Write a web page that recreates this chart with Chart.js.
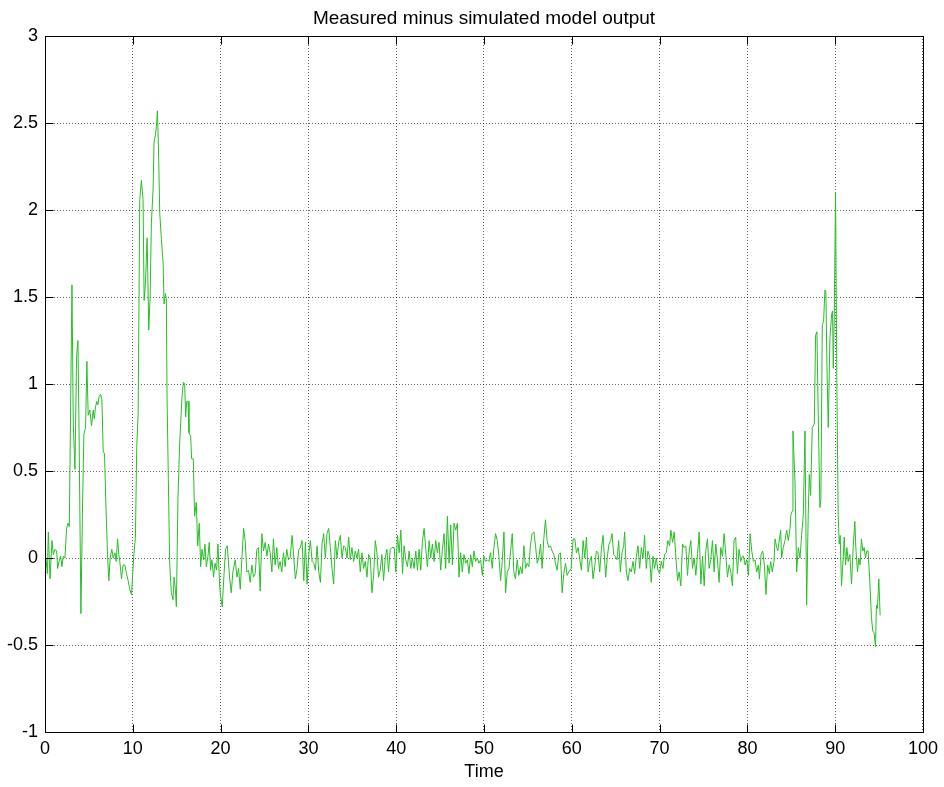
<!DOCTYPE html>
<html>
<head>
<meta charset="utf-8">
<style>
* {
  margin: 0;
  padding: 0;
}
body {
  background: #fff;
}
.chartBox {
  width: 944px;
  height: 787px;
}
</style>
</head>
<body>
<div class="chartBox">
  <canvas id="residChart" width="944" height="787"></canvas>
</div>
<script src="https://cdn.jsdelivr.net/npm/chart.js"></script>
<script>
// sample times (s) and residual of the model, read segment by segment
const time = [
  0.11,0.27,0.38,0.57,0.80,0.95,1.14,1.33,1.44,1.59,1.78,1.93,2.08,2.27,2.46,2.61,2.77,3.07,3.22,3.41,3.60,3.75,3.86,4.09,4.28,4.43,4.62,4.77,4.92,5.11,5.30,5.49,5.61,5.76,5.91,6.02,6.17,6.33,6.48,6.63,6.78,6.93,7.12,7.27,7.42,7.61,7.77,7.96,8.11,8.26,8.41,8.52,8.71,8.90,9.09,9.28,9.47,9.66,9.85,
  10.11,10.30,10.45,10.61,10.79,10.98,11.17,11.29,11.44,11.63,11.82,11.97,12.12,12.31,12.42,12.57,12.69,12.80,12.92,13.07,13.26,13.45,13.56,13.71,13.82,13.90,14.05,14.20,14.39,14.58,14.70,14.85,14.96,15.15,15.34,15.61,15.76,15.91,16.02,16.14,16.29,16.40,16.59,16.70,16.89,17.04,17.23,17.39,17.57,17.73,17.88,18.07,18.22,18.37,18.56,18.71,18.86,19.01,19.20,19.36,19.54,19.70,19.89,20.00,
  20.19,20.38,20.57,20.76,21.02,21.21,21.40,21.67,21.86,22.05,22.24,22.43,22.62,22.80,22.99,23.18,23.37,23.56,23.75,23.94,24.13,24.32,24.51,24.70,24.89,25.08,25.27,25.46,25.65,25.84,26.02,26.21,26.40,26.59,26.78,26.97,27.16,27.35,27.54,27.73,27.92,
  28.15,28.34,28.52,28.71,28.90,29.09,29.28,29.47,29.66,29.85,30.04,30.23,30.42,30.61,30.80,30.99,31.18,31.37,31.55,31.74,31.93,32.12,32.31,32.50,32.69,32.88,33.07,33.26,33.45,33.64,33.83,34.02,34.21,34.40,34.59,34.77,34.96,35.15,35.34,35.53,35.72,35.91,36.10,36.29,36.48,36.67,36.86,37.05,37.24,37.43,37.62,37.80,37.99,38.18,38.37,38.56,38.75,38.94,39.13,39.32,39.51,
  39.77,39.96,40.15,40.34,40.53,40.72,40.90,41.09,41.28,41.47,41.66,41.85,42.04,42.23,42.42,42.61,42.80,42.99,43.18,43.37,43.56,43.75,43.93,44.12,44.31,44.50,44.69,44.88,45.07,45.26,45.45,45.64,45.83,46.02,46.21,46.40,46.59,46.78,46.97,47.15,47.34,47.53,47.72,47.91,48.10,48.29,48.48,48.67,48.86,
  49.05,49.24,49.43,49.62,49.81,50.00,50.18,50.37,50.56,50.75,50.94,51.13,51.32,51.51,51.70,51.89,52.08,52.27,52.46,52.65,52.84,53.03,53.22,53.40,53.59,53.78,53.97,54.16,54.35,54.54,54.73,54.92,55.11,55.30,55.49,55.68,55.87,56.06,56.25,56.44,56.62,56.81,57.00,57.19,57.38,57.57,57.76,57.95,58.14,58.33,58.52,58.71,58.90,59.09,59.28,59.47,
  59.66,59.92,60.15,60.34,60.53,60.72,60.91,61.10,61.29,61.48,61.67,61.86,62.04,62.23,62.42,62.61,62.80,62.99,63.18,63.37,63.56,63.75,63.86,64.05,64.24,64.43,64.58,64.77,64.96,65.15,65.34,65.53,65.72,65.91,66.02,66.21,66.40,66.59,66.78,66.97,67.16,67.35,67.54,67.73,67.92,68.11,68.29,68.48,68.67,68.86,
  69.05,69.24,69.43,69.62,69.81,70.00,70.19,70.38,70.57,70.76,70.95,71.14,71.29,71.48,71.67,71.86,72.05,72.23,72.42,72.61,72.80,72.99,73.18,73.37,73.56,73.75,73.94,74.13,74.32,74.51,74.70,74.89,75.08,75.26,75.45,75.64,75.83,76.02,76.21,76.40,76.59,76.78,76.97,77.16,77.35,77.54,77.73,77.92,78.11,78.30,78.48,78.67,78.86,79.05,79.24,79.43,
  79.55,79.74,79.93,80.12,80.31,80.50,80.68,80.87,81.06,81.25,81.37,81.56,81.75,81.93,82.12,82.31,82.50,82.65,82.84,83.03,83.15,83.34,83.45,83.60,83.79,83.90,84.09,84.28,84.47,84.66,84.85,84.96,85.12,85.19,85.42,85.61,85.80,85.99,86.18,86.37,
  86.56,86.75,86.93,87.05,87.20,87.39,87.62,87.77,87.92,88.07,88.26,88.37,88.53,88.68,88.83,88.94,89.06,89.21,89.40,89.59,89.70,89.78,89.89,90.04,90.19,90.34,90.46,90.57,90.72,90.87,
  91.03,91.18,91.33,91.48,91.67,91.86,92.05,92.24,92.35,92.54,92.69,92.84,92.99,93.15,93.30,93.45,93.60,93.75,93.94,94.13,94.28,94.43,94.59,94.70,94.81,94.97,95.12
];

const residual = [
  0.00,-0.09,0.15,-0.12,0.10,0.02,0.05,0.04,-0.06,-0.02,0.01,-0.05,0.01,0.00,0.17,0.20,0.18,1.57,0.77,0.51,1.16,1.25,0.82,-0.32,0.31,0.71,0.75,1.13,0.82,0.85,0.76,0.85,0.80,0.87,0.90,0.88,0.93,0.94,0.91,0.61,0.60,0.31,0.02,-0.13,0.00,0.05,0.00,0.03,-0.02,0.11,0.02,-0.02,-0.12,-0.04,-0.04,-0.09,-0.13,-0.18,-0.21,
  0.01,0.12,0.64,0.83,2.06,2.17,2.06,1.48,1.58,1.84,1.31,1.50,1.93,2.12,2.39,2.43,2.48,2.57,2.37,1.98,1.83,1.70,1.46,1.52,1.49,0.93,0.45,-0.03,-0.20,-0.24,-0.11,-0.18,-0.28,0.35,0.66,0.93,1.01,1.00,0.81,0.90,0.90,0.72,0.70,0.57,0.57,0.24,0.32,0.07,0.20,-0.05,0.05,-0.01,0.08,-0.05,0.01,0.09,-0.07,-0.01,-0.11,-0.03,-0.07,0.08,-0.16,-0.22,
  -0.28,-0.10,0.05,0.07,-0.11,-0.20,-0.08,-0.01,-0.11,-0.06,-0.18,0.00,0.17,0.10,-0.08,-0.07,-0.14,-0.04,-0.11,-0.09,0.05,0.06,-0.19,0.14,0.04,0.09,0.01,0.08,0.03,-0.08,0.11,-0.04,0.06,-0.06,-0.02,-0.08,0.03,-0.05,0.05,-0.01,0.00,
  0.13,0.00,-0.12,-0.06,0.05,0.06,0.10,-0.13,0.09,-0.15,0.02,0.10,-0.02,-0.03,-0.07,0.07,-0.08,-0.14,0.08,0.14,0.00,0.14,0.17,0.06,-0.06,-0.15,0.10,0.00,0.09,0.13,0.00,0.07,0.06,0.00,0.12,-0.01,0.06,-0.02,0.04,0.00,0.05,-0.08,0.03,-0.06,-0.02,-0.11,0.02,0.00,-0.20,-0.10,0.10,0.03,-0.11,-0.07,0.02,-0.13,0.00,0.05,-0.08,0.05,0.06,
  0.06,-0.08,0.13,0.03,0.16,-0.09,0.07,-0.01,-0.05,0.04,-0.06,0.00,-0.06,0.04,-0.07,0.05,-0.07,0.10,0.17,0.05,-0.05,0.10,0.00,0.08,-0.02,0.10,0.03,0.09,-0.07,0.05,0.14,-0.06,0.24,-0.03,0.19,-0.04,0.20,0.16,0.20,-0.11,0.03,-0.08,0.02,-0.03,-0.01,-0.09,0.02,-0.05,0.04,
  -0.02,0.00,-0.03,-0.01,-0.10,0.01,-0.02,-0.01,-0.02,0.03,-0.06,0.06,0.14,0.10,0.01,-0.13,-0.02,0.15,-0.20,-0.08,-0.06,0.04,0.14,-0.08,-0.12,-0.01,-0.10,-0.05,-0.09,0.07,-0.06,-0.03,-0.05,0.08,0.14,0.15,0.07,-0.03,0.00,0.08,-0.06,0.11,0.22,0.10,0.06,0.07,0.04,0.02,-0.03,-0.07,0.02,0.03,-0.20,-0.09,-0.03,-0.10,
  -0.08,-0.06,0.11,0.11,0.03,0.06,-0.01,-0.07,0.10,0.00,0.12,-0.08,-0.02,0.01,-0.12,-0.05,0.04,0.03,-0.08,0.05,0.13,-0.02,-0.11,0.01,0.08,0.10,0.14,0.02,0.01,-0.01,0.10,-0.08,0.03,0.07,0.15,-0.08,-0.13,-0.06,-0.08,-0.02,-0.09,0.01,0.07,-0.06,0.06,0.00,0.13,-0.06,0.04,0.01,
  -0.14,0.01,-0.06,0.00,-0.07,-0.09,-0.02,-0.06,0.02,0.03,0.10,0.07,0.16,0.09,0.15,0.00,-0.13,-0.08,-0.16,0.08,0.06,0.07,-0.10,0.04,0.10,-0.06,0.00,-0.10,0.02,0.15,-0.15,0.01,-0.16,0.04,0.11,-0.06,-0.01,0.10,-0.08,0.08,-0.01,-0.14,0.06,0.01,0.14,0.02,-0.11,-0.04,-0.08,-0.16,0.10,0.12,-0.09,0.05,-0.02,0.01,
  0.01,-0.04,-0.01,-0.10,0.14,0.04,-0.02,-0.01,-0.08,-0.04,-0.12,0.02,0.04,-0.04,-0.21,-0.04,-0.09,-0.02,-0.08,-0.02,0.11,0.06,0.04,0.09,0.16,0.00,0.06,0.10,0.16,0.10,0.17,0.25,0.27,0.73,0.44,-0.08,0.06,0.00,0.13,0.25,
  0.73,-0.27,0.25,0.48,0.36,0.75,0.77,1.28,1.30,0.82,0.29,0.34,1.34,1.36,1.54,1.53,1.11,0.75,1.26,1.40,1.42,1.09,1.36,2.10,1.01,0.25,0.08,0.13,-0.16,-0.04,
  0.12,-0.04,0.06,-0.02,0.02,-0.15,0.06,0.21,0.06,-0.08,0.00,-0.04,0.11,0.04,0.06,0.00,0.04,0.04,-0.13,-0.34,-0.42,-0.43,-0.51,-0.27,-0.29,-0.12,-0.33
];

const xTicks = [0, 10, 20, 30, 40, 50, 60, 70, 80, 90, 100];
const yTicks = [-1, -0.5, 0, 0.5, 1, 1.5, 2, 2.5, 3];
const plotTitle = 'Measured minus simulated model output';

const FONT = "'Liberation Sans', Arial, Helvetica, sans-serif";

// axes box with inward tick marks on all four sides, title centred over the axes
const axesBox = {
  id: 'axesBox',
  afterDraw(chart) {
    const {ctx, chartArea: a, scales: {x, y}} = chart;
    const L = Math.round(a.left) + 0.5, R = Math.round(a.right) + 0.5;
    const T = Math.round(a.top) + 0.5, B = Math.round(a.bottom) + 0.5;
    ctx.save();
    ctx.strokeStyle = '#000';
    ctx.lineWidth = 1;
    ctx.beginPath();
    xTicks.forEach(v => {
      const px = Math.round(x.getPixelForValue(v)) + 0.5;
      ctx.moveTo(px, B); ctx.lineTo(px, B - 8);
      ctx.moveTo(px, T); ctx.lineTo(px, T + 8);
    });
    yTicks.forEach(v => {
      const py = Math.round(y.getPixelForValue(v)) + 0.5;
      ctx.moveTo(L, py); ctx.lineTo(L + 8, py);
      ctx.moveTo(R, py); ctx.lineTo(R - 8, py);
    });
    ctx.stroke();
    ctx.strokeRect(L, T, R - L, B - T);

    ctx.fillStyle = '#000';
    ctx.font = '19px ' + FONT;
    ctx.textAlign = 'center';
    ctx.textBaseline = 'alphabetic';
    ctx.fillText(plotTitle, (a.left + a.right) / 2, 23.5);
    ctx.restore();
  }
};

const points = time.map((t, i) => ({x: t, y: residual[i]}));

const config = {
  type: 'line',
  data: {
    datasets: [{
      label: 'residual',
      data: points,
      borderColor: 'rgb(40, 190, 40)',
      borderWidth: 1,
      pointRadius: 0,
      tension: 0,
      fill: false
    }]
  },
  options: {
    responsive: false,
    animation: false,
    events: [],
    layout: {
      padding: {left: 0, right: 19, top: 36, bottom: 0}
    },
    plugins: {
      legend: {display: false},
      tooltip: {enabled: false},
      title: {display: false}
    },
    scales: {
      x: {
        type: 'linear',
        min: 0,
        max: 100,
        afterBuildTicks: scale => { scale.ticks = xTicks.map(v => ({value: v})); },
        afterFit: scale => { scale.height = 55; },
        ticks: {
          color: '#000',
          padding: 6,
          maxRotation: 0,
          font: {family: FONT, size: 18},
          callback: v => String(v)
        },
        grid: {color: 'rgba(0,0,0,0.6)', lineWidth: 1, drawTicks: false},
        border: {display: false, dash: [1, 2]},
        title: {
          display: true,
          text: 'Time',
          color: '#000',
          font: {family: FONT, size: 18},
          padding: {top: 2, bottom: 4}
        }
      },
      y: {
        type: 'linear',
        min: -1,
        max: 3,
        afterBuildTicks: scale => { scale.ticks = yTicks.map(v => ({value: v})); },
        afterFit: scale => { scale.width = 45; },
        ticks: {
          color: '#000',
          padding: 7,
          font: {family: FONT, size: 18},
          callback: v => String(v)
        },
        grid: {color: 'rgba(0,0,0,0.6)', lineWidth: 1, drawTicks: false},
        border: {display: false, dash: [1, 2]}
      }
    }
  },
  plugins: [axesBox]
};

const residChart = new Chart(document.getElementById('residChart'), config);
</script>
</body>
</html>
